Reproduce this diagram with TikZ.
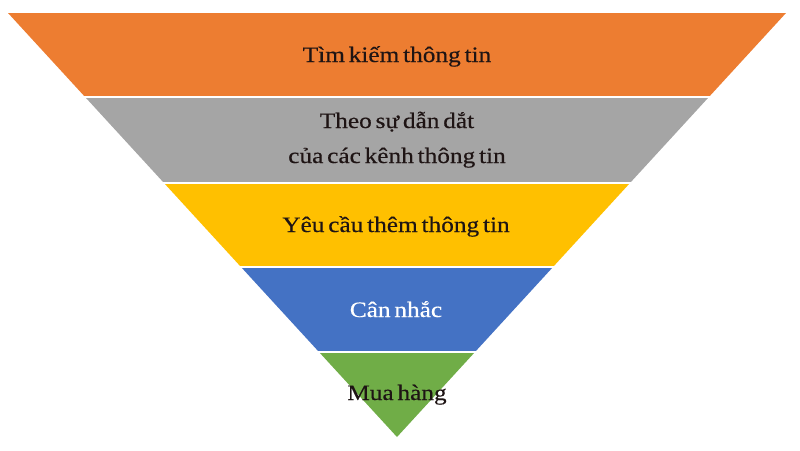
\documentclass[tikz,border=0pt]{standalone}
\usepackage{fontspec}
\setmainfont[FakeStretch=1.15, WordSpace=0.6, FakeBold=0.4]{Liberation Serif}
\usepackage{tikz}

\definecolor{FunOrange}{HTML}{ED7D31}
\definecolor{FunGray}{HTML}{A5A5A5}
\definecolor{FunYellow}{HTML}{FFC000}
\definecolor{FunBlue}{HTML}{4472C4}
\definecolor{FunGreen}{HTML}{70AD47}
\definecolor{FunText}{HTML}{1E1414}

\begin{document}
\begin{tikzpicture}[x=1pt, y=-1pt]
  \tikzstyle{label}=[anchor=base, font=\fontsize{22}{35}\selectfont, text=FunText, inner sep=0pt, align=center]
  \tikzstyle{gap}=[draw=white, line width=2pt]
  \useasboundingbox (0,0) rectangle (800,450);
  % bands of the funnel
  \fill[FunOrange] (8,13) -- (786,13) -- (708.9,97) -- (85.1,97) -- cycle;
  \fill[FunGray] (85.1,97) -- (708.9,97) -- (630,183) -- (164,183) -- cycle;
  \fill[FunYellow] (164,183) -- (630,183) -- (553,267) -- (241,267) -- cycle;
  \fill[FunBlue] (241,267) -- (553,267) -- (475,352) -- (319,352) -- cycle;
  \fill[FunGreen] (319,352) -- (475,352) -- (397,437) -- cycle;
  % white lines between the bands
  \coordinate (L_1) at (84,97);   \coordinate (R_1) at (710,97);
  \coordinate (L_2) at (163,183); \coordinate (R_2) at (631,183);
  \coordinate (L_3) at (240,267); \coordinate (R_3) at (554,267);
  \coordinate (L_4) at (318,352); \coordinate (R_4) at (476,352);
  \draw[gap] (L_1) -- (R_1);
  \draw[gap] (L_2) -- (R_2);
  \draw[gap] (L_3) -- (R_3);
  \draw[gap] (L_4) -- (R_4);
  % labels
  \node[label] (S_1) at (397,62)  {Tìm kiếm thông tin};
  \node[label] (S_2a) at (397,128) {Theo sự dẫn dắt};
  \node[label] (S_2b) at (397,163) {của các kênh thông tin};
  \node[label] (S_3) at (396,232) {Yêu cầu thêm thông tin};
  \node[label, text=white] (S_4) at (396,317) {Cân nhắc};
  \node[label] (S_5) at (397,400) {Mua hàng};
\end{tikzpicture}
\end{document}
